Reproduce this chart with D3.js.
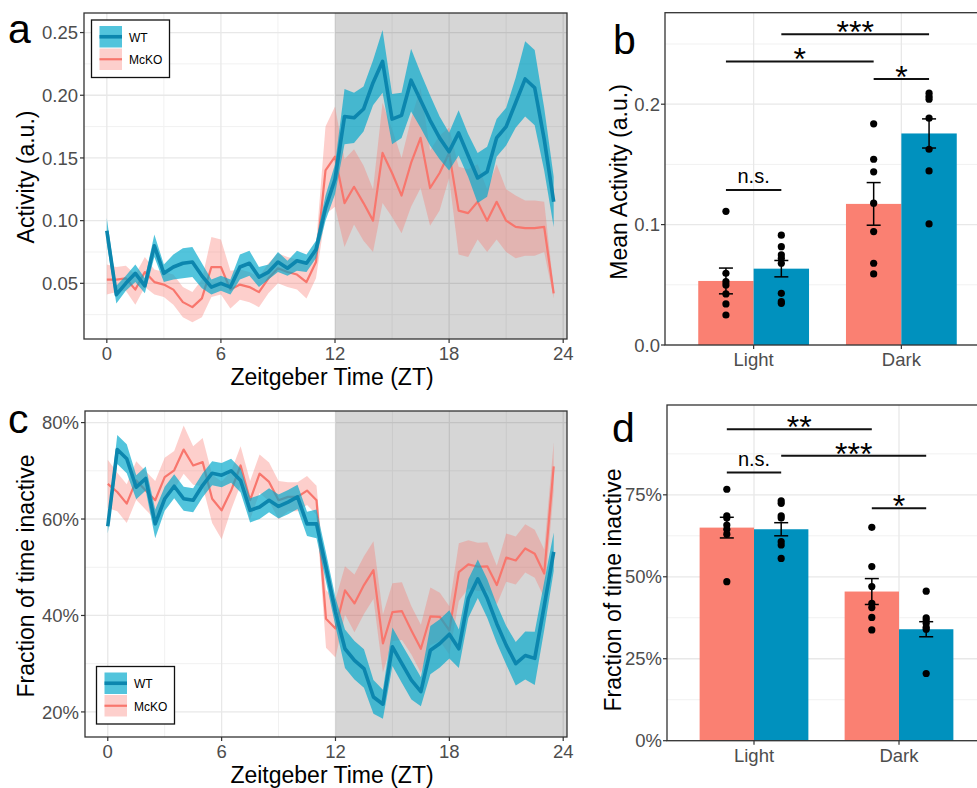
<!DOCTYPE html>
<html><head><meta charset="utf-8">
<script src="https://cdn.jsdelivr.net/npm/d3@7"></script>
<style>
body{margin:0;background:#fff}
svg{display:block}
text{font-family:"Liberation Sans",Arial,Helvetica,sans-serif}
</style>
</head><body>
<svg id="chart" width="977" height="788"></svg>
<script>
// ---------------- DATA ----------------
const hours = [0,0.5,1,1.5,2,2.5,3,3.5,4,4.5,5,5.5,6,6.5,7,7.5,8,8.5,9,9.5,10,10.5,11,11.5,
               12,12.5,13,13.5,14,14.5,15,15.5,16,16.5,17,17.5,18,18.5,19,19.5,20,20.5,21,21.5,22,22.5,23,23.5];

const activityWT = [0.092,0.041,0.050,0.058,0.048,0.080,0.058,0.063,0.066,0.067,0.056,0.047,0.050,0.047,0.063,0.066,0.055,0.059,0.067,0.062,0.068,0.066,0.077,0.110,
                    0.133,0.183,0.182,0.189,0.210,0.227,0.181,0.184,0.212,0.196,0.180,0.166,0.155,0.170,0.152,0.134,0.139,0.166,0.175,0.194,0.213,0.206,0.165,0.115];
const activityWTse = [0.010,0.007,0.006,0.007,0.006,0.009,0.007,0.010,0.012,0.012,0.010,0.006,0.006,0.006,0.010,0.010,0.008,0.006,0.008,0.006,0.008,0.007,0.007,0.010,
                      0.012,0.022,0.020,0.018,0.018,0.025,0.020,0.018,0.025,0.022,0.020,0.017,0.015,0.018,0.017,0.020,0.020,0.015,0.015,0.020,0.030,0.030,0.025,0.020];
const activityKO = [0.053,0.053,0.054,0.045,0.059,0.051,0.049,0.045,0.035,0.031,0.038,0.063,0.063,0.045,0.049,0.047,0.043,0.054,0.062,0.059,0.057,0.051,0.067,0.140,
                    0.151,0.114,0.127,0.114,0.100,0.154,0.138,0.120,0.146,0.166,0.126,0.138,0.154,0.108,0.106,0.115,0.100,0.115,0.100,0.095,0.094,0.094,0.095,0.042];
const activityKOse = [0.012,0.010,0.010,0.012,0.012,0.010,0.010,0.012,0.012,0.012,0.015,0.024,0.022,0.015,0.012,0.012,0.012,0.012,0.012,0.012,0.012,0.013,0.013,0.035,
                      0.040,0.035,0.030,0.030,0.025,0.040,0.035,0.030,0.035,0.040,0.030,0.030,0.020,0.035,0.035,0.030,0.025,0.030,0.025,0.025,0.022,0.022,0.020,0.004];

const inactiveWT = [58.5,74.4,72.5,66.6,68.4,59.0,64.2,66.8,64.2,63.9,67.0,69.5,69.1,70.0,68.0,61.8,62.5,63.9,62.6,63.5,64.6,59.0,59.0,50.0,
                    40.7,33.1,30.7,29.0,23.1,21.6,33.5,30.0,26.6,24.2,32.8,34.2,36.1,33.1,43.5,47.6,43.5,38.3,33.8,30.0,31.7,31.1,42.0,53.2];
const inactiveWTse = [1.5,3,3,2.5,2.5,3,2.5,2.5,2.5,2.5,2.5,2.5,2.5,2.5,2.5,2.5,2.5,2.5,2.5,2.5,2.5,2.5,3,3,
                      3,4,4,4,3.5,3,4,4,4,3,5,5,5,4,4,4,4,4,4,4.5,5,5.5,5,4];
const inactiveKO = [67.3,65.6,63.2,68.0,65.9,63.9,68.7,70.1,74.4,71.1,71.8,64.2,61.8,65.9,71.1,63.9,69.4,67.7,63.9,64.6,64.6,65.9,63.9,39.3,
                    37.3,45.2,42.5,46.3,49.4,34.2,40.7,40.9,36.9,33.1,39.8,39.7,36.9,49.0,50.6,50.1,50.2,46.3,52.0,51.4,53.9,52.8,48.7,70.9];
const inactiveKOse = [5,4,4,4,4,4,4,4,5,4,5,5,6,4,4,4,4,4,4,3,3,3,3,6,
                      6,5,6,6,6,6,6,6,5,5,6,5,5,6,5,5,5,4,5,5,5,5,5,5];

const lineTicksX = [0,6,12,18,24];
const activityTicks = [0.05,0.10,0.15,0.20,0.25];
const inactiveTicks = [20,40,60,80];

const phases = ["Light","Dark"];
const genotypes = ["McKO","WT"];

const meanActMcKO = [0.0532,0.1172];
const meanActWT   = [0.0634,0.1757];
const meanActMcKOse = [0.0107,0.0177];
const meanActWTse   = [0.0068,0.0121];
const actPtsMcKOLight = [0.111,0.0596,0.0526,0.0499,0.0424,0.0341,0.0249];
const actPtsWTLight   = [0.0912,0.0817,0.0748,0.072,0.0679,0.0429,0.036,0.0346];
const actPtsMcKODark  = [0.1837,0.1543,0.1438,0.1178,0.0942,0.0679,0.059];
const actPtsWTDark    = [0.2092,0.2064,0.2042,0.1884,0.1626,0.1446,0.1006];
const meanActTicks = [0.0,0.1,0.2];

const fracMcKO = [65.0,45.5];
const fracWT   = [64.5,34.0];
const fracMcKOse = [3.15,3.95];
const fracWTse   = [2.0,2.3];
const fracPtsMcKOLight = [76.7,68.6,67.9,65.8,64.5,63.0,48.5];
const fracPtsWTLight   = [73.2,72.4,68.6,67.9,60.7,59.7,55.6];
const fracPtsMcKODark  = [65.1,53.1,47.0,41.9,40.6,37.6,33.8];
const fracPtsWTDark    = [45.6,37.5,36.8,35.8,34.6,34.0,20.5];
const fracTicks = [0,25,50,75];

const sigB = [
  {a:["Light","McKO"], b:["Light","WT"], y:0.1288, label:"n.s."},
  {a:["Light","McKO"], b:["Dark","McKO"], y:0.2355, label:"*"},
  {a:["Dark","McKO"], b:["Dark","WT"], y:0.2209, label:"*"},
  {a:["Light","WT"], b:["Dark","WT"], y:0.258, label:"***"}
];
const sigD = [
  {a:["Light","McKO"], b:["Dark","McKO"], y:95.0, label:"**"},
  {a:["Light","WT"], b:["Dark","WT"], y:86.9, label:"***"},
  {a:["Light","McKO"], b:["Light","WT"], y:81.8, label:"n.s."},
  {a:["Dark","McKO"], b:["Dark","WT"], y:70.9, label:"*"}
];

// ---------------- STYLE ----------------
const C = {
  wtLine:"#0C86AE", wtFill:"#00A8CC", koLine:"#F8766D", koFill:"#F8766D",
  barKO:"#FA8072", barWT:"#0091BE",
  grid:"#E8E8E8", gridMinor:"#F1F1F1", border:"#333333", tickText:"#4D4D4D"
};
const svg = d3.select("#chart");
svg.append("rect").attr("width",977).attr("height",788).attr("fill","#fff");

function vline(g,x,y1,y2,col,w){g.append("line").attr("x1",x).attr("x2",x).attr("y1",y1).attr("y2",y2).attr("stroke",col).attr("stroke-width",w);}
function hline(g,y,x1,x2,col,w){g.append("line").attr("x1",x1).attr("x2",x2).attr("y1",y).attr("y2",y).attr("stroke",col).attr("stroke-width",w);}

// ---------------- LINE PANELS ----------------
function linePanel(p){
  const x = d3.scaleLinear().domain([-1.2,24.2]).range([p.l,p.r]);
  const y = d3.scaleLinear().domain(p.yDom).range([p.b,p.t]);
  const cid = "clip"+p.letter;
  svg.append("clipPath").attr("id",cid).append("rect")
     .attr("x",p.l).attr("y",p.t).attr("width",p.r-p.l).attr("height",p.b-p.t);
  const g = svg.append("g").attr("clip-path",`url(#${cid})`);
  const xMinor = lineTicksX.slice(0,-1).map((v,i)=>(v+lineTicksX[i+1])/2);
  const yt = p.yTicks, step = yt[1]-yt[0];
  const yMinor = [yt[0]-step/2].concat(yt.map(v=>v+step/2));
  xMinor.forEach(v=>vline(g,x(v),p.t,p.b,C.gridMinor,1));
  yMinor.forEach(v=>hline(g,y(v),p.l,p.r,C.gridMinor,1));
  lineTicksX.forEach(v=>vline(g,x(v),p.t,p.b,C.grid,1.3));
  yt.forEach(v=>hline(g,y(v),p.l,p.r,C.grid,1.3));
  g.append("rect").attr("x",x(12)).attr("y",p.t).attr("width",p.r-x(12)).attr("height",p.b-p.t)
   .attr("fill","#000").attr("fill-opacity",0.16);
  const area = (m,se)=>d3.area().x((d,i)=>x(hours[i])).y0((d,i)=>y(m[i]-se[i])).y1((d,i)=>y(m[i]+se[i]))(hours);
  const line = (m)=>d3.line().x((d,i)=>x(hours[i])).y((d,i)=>y(m[i]))(hours);
  g.append("path").attr("d",area(p.ko,p.koSE)).attr("fill",C.koFill).attr("fill-opacity",0.35);
  g.append("path").attr("d",line(p.ko)).attr("fill","none").attr("stroke",C.koLine).attr("stroke-width",2.2).attr("stroke-linejoin","round");
  g.append("path").attr("d",area(p.wt,p.wtSE)).attr("fill",C.wtFill).attr("fill-opacity",0.68);
  g.append("path").attr("d",line(p.wt)).attr("fill","none").attr("stroke",C.wtLine).attr("stroke-width",3.6).attr("stroke-linejoin","round");
  svg.append("rect").attr("x",p.l).attr("y",p.t).attr("width",p.r-p.l).attr("height",p.b-p.t)
     .attr("fill","none").attr("stroke",C.border).attr("stroke-width",1.3);
  const ax = svg.append("g");
  yt.forEach(v=>{
    hline(ax,y(v),p.l-4,p.l,C.border,1.2);
    ax.append("text").attr("x",p.l-6).attr("y",y(v)).attr("dy","0.36em").attr("text-anchor","end")
      .attr("font-size",18.5).attr("fill",C.tickText).text(p.fmt(v));
  });
  lineTicksX.forEach(v=>{
    vline(ax,x(v),p.b,p.b+4,C.border,1.2);
    ax.append("text").attr("x",x(v)).attr("y",p.b+21).attr("text-anchor","middle")
      .attr("font-size",18.5).attr("fill",C.tickText).text(v);
  });
  ax.append("text").attr("x",332).attr("y",p.b+46).attr("text-anchor","middle").attr("font-size",23).attr("fill","#000").text("Zeitgeber Time (ZT)");
  ax.append("text").attr("transform",`translate(${p.yTitleX},${p.yTitleY}) rotate(-90)`).attr("text-anchor","middle")
    .attr("font-size",23).attr("fill","#000").text(p.yTitle);
  ax.append("text").attr("x",p.letterX).attr("y",p.letterY).attr("font-size",41).attr("fill","#000").text(p.letter);
  const L = p.legend;
  const lg = svg.append("g");
  lg.append("rect").attr("x",L.x).attr("y",L.y).attr("width",78).attr("height",57.5).attr("fill","#fff").attr("stroke","#111").attr("stroke-width",1.3);
  const keys = [{n:"WT",fill:C.wtFill,op:0.68,line:C.wtLine,w:3.6,ky:6},{n:"McKO",fill:C.koFill,op:0.35,line:C.koLine,w:2.2,ky:28.5}];
  keys.forEach(k=>{
    lg.append("rect").attr("x",L.x+8).attr("y",L.y+k.ky).attr("width",22.5).attr("height",21.5).attr("fill",k.fill).attr("fill-opacity",k.op);
    hline(lg,L.y+k.ky+10.75,L.x+8,L.x+30.5,k.line,k.w);
    lg.append("text").attr("x",L.x+37.5).attr("y",L.y+k.ky+15.5).attr("font-size",12).attr("fill","#000").text(k.n);
  });
}

linePanel({letter:"a", l:84, r:567, t:13, b:339, yDom:[0.0056,0.2656], yTicks:activityTicks, fmt:d3.format(".2f"),
  wt:activityWT, wtSE:activityWTse, ko:activityKO, koSE:activityKOse,
  yTitle:"Activity (a.u.)", yTitleX:34, yTitleY:177, letterX:8, letterY:43, legend:{x:91.5,y:20}});
linePanel({letter:"c", l:85, r:567, t:411, b:737, yDom:[14.8,82.4], yTicks:inactiveTicks, fmt:d=>d+"%",
  wt:inactiveWT, wtSE:inactiveWTse, ko:inactiveKO, koSE:inactiveKOse,
  yTitle:"Fraction of time inactive", yTitleX:34, yTitleY:576, letterX:8, letterY:433, legend:{x:96.5,y:666.5}});

// ---------------- BAR PANELS ----------------
function barPanel(p){
  const x0 = d3.scaleBand().domain(phases).range([p.l,p.r]).paddingInner(0.25).paddingOuter(0.225);
  const x1 = d3.scaleBand().domain(genotypes).range([0,x0.bandwidth()]);
  const y = d3.scaleLinear().domain(p.yDom).range([p.b,p.t]);
  const cx = (ph,ge)=>x0(ph)+x1(ge)+x1.bandwidth()/2;
  const g = svg.append("g");
  const step = p.yTicks[1]-p.yTicks[0];
  p.yTicks.forEach(v=>{ if(y(v+step/2)>p.t) hline(g,y(v+step/2),p.l,p.r,C.gridMinor,1); });
  p.yTicks.forEach(v=>hline(g,y(v),p.l,p.r,C.grid,1.3));
  phases.forEach(ph=>vline(g,x0(ph)+x0.bandwidth()/2,p.t,p.b,C.grid,1.3));
  const rows = [];
  phases.forEach((ph,i)=>{
    rows.push({ph,ge:"McKO",m:p.mKO[i],se:p.seKO[i],pts:p.pts.McKO[ph],col:C.barKO});
    rows.push({ph,ge:"WT",m:p.mWT[i],se:p.seWT[i],pts:p.pts.WT[ph],col:C.barWT});
  });
  rows.forEach(r=>{
    g.append("rect").attr("x",x0(r.ph)+x1(r.ge)).attr("y",y(r.m)).attr("width",x1.bandwidth()).attr("height",y(0)-y(r.m)).attr("fill",r.col);
  });
  rows.forEach(r=>{
    const c = cx(r.ph,r.ge);
    vline(g,c,y(r.m-r.se),y(r.m+r.se),"#000",1.5);
    hline(g,y(r.m-r.se),c-7,c+7,"#000",1.5);
    hline(g,y(r.m+r.se),c-7,c+7,"#000",1.5);
    r.pts.forEach(v=>g.append("circle").attr("cx",c).attr("cy",y(v)).attr("r",3.6).attr("fill","#000"));
  });
  p.sig.forEach(s=>{
    const xa = cx(s.a[0],s.a[1]), xb = cx(s.b[0],s.b[1]), yy = y(s.y);
    hline(g,yy,xa,xb,"#111",2);
    const ns = s.label==="n.s.";
    g.append("text").attr("x",(xa+xb)/2).attr("y",ns?yy-7:yy+9).attr("text-anchor","middle")
     .attr("font-size",ns?20:32).attr("fill","#000").text(s.label);
  });
  svg.append("rect").attr("x",p.l).attr("y",p.t).attr("width",p.r-p.l).attr("height",p.b-p.t)
     .attr("fill","none").attr("stroke",C.border).attr("stroke-width",1.3);
  const ax = svg.append("g");
  p.yTicks.forEach(v=>{
    hline(ax,y(v),p.l-4,p.l,C.border,1.2);
    ax.append("text").attr("x",p.l-5).attr("y",y(v)).attr("dy","0.36em").attr("text-anchor","end")
      .attr("font-size",18.5).attr("fill",C.tickText).text(p.fmt(v));
  });
  phases.forEach(ph=>{
    const c = x0(ph)+x0.bandwidth()/2;
    vline(ax,c,p.b,p.b+4,C.border,1.2);
    ax.append("text").attr("x",c).attr("y",p.b+21).attr("text-anchor","middle").attr("font-size",18.5).attr("fill",C.tickText).text(ph);
  });
  ax.append("text").attr("transform",`translate(${p.yTitleX},${p.yTitleY}) rotate(-90)`).attr("text-anchor","middle")
    .attr("font-size",23).attr("fill","#000").text(p.yTitle);
  ax.append("text").attr("x",p.letterX).attr("y",p.letterY).attr("font-size",41).attr("fill","#000").text(p.letter);
}

barPanel({letter:"b", l:665, r:990, t:12.7, b:345, yDom:[0,0.276], yTicks:meanActTicks, fmt:d3.format(".1f"),
  mKO:meanActMcKO, mWT:meanActWT, seKO:meanActMcKOse, seWT:meanActWTse,
  pts:{McKO:{Light:actPtsMcKOLight,Dark:actPtsMcKODark}, WT:{Light:actPtsWTLight,Dark:actPtsWTDark}},
  sig:sigB, yTitle:"Mean Activity (a.u.)", yTitleX:627, yTitleY:182, letterX:613, letterY:54});
barPanel({letter:"d", l:667, r:986, t:405, b:740.7, yDom:[0,102.4], yTicks:fracTicks, fmt:d=>d+"%",
  mKO:fracMcKO, mWT:fracWT, seKO:fracMcKOse, seWT:fracWTse,
  pts:{McKO:{Light:fracPtsMcKOLight,Dark:fracPtsMcKODark}, WT:{Light:fracPtsWTLight,Dark:fracPtsWTDark}},
  sig:sigD, yTitle:"Fraction of time inactive", yTitleX:621, yTitleY:590, letterX:612, letterY:442});
</script>
</body></html>
